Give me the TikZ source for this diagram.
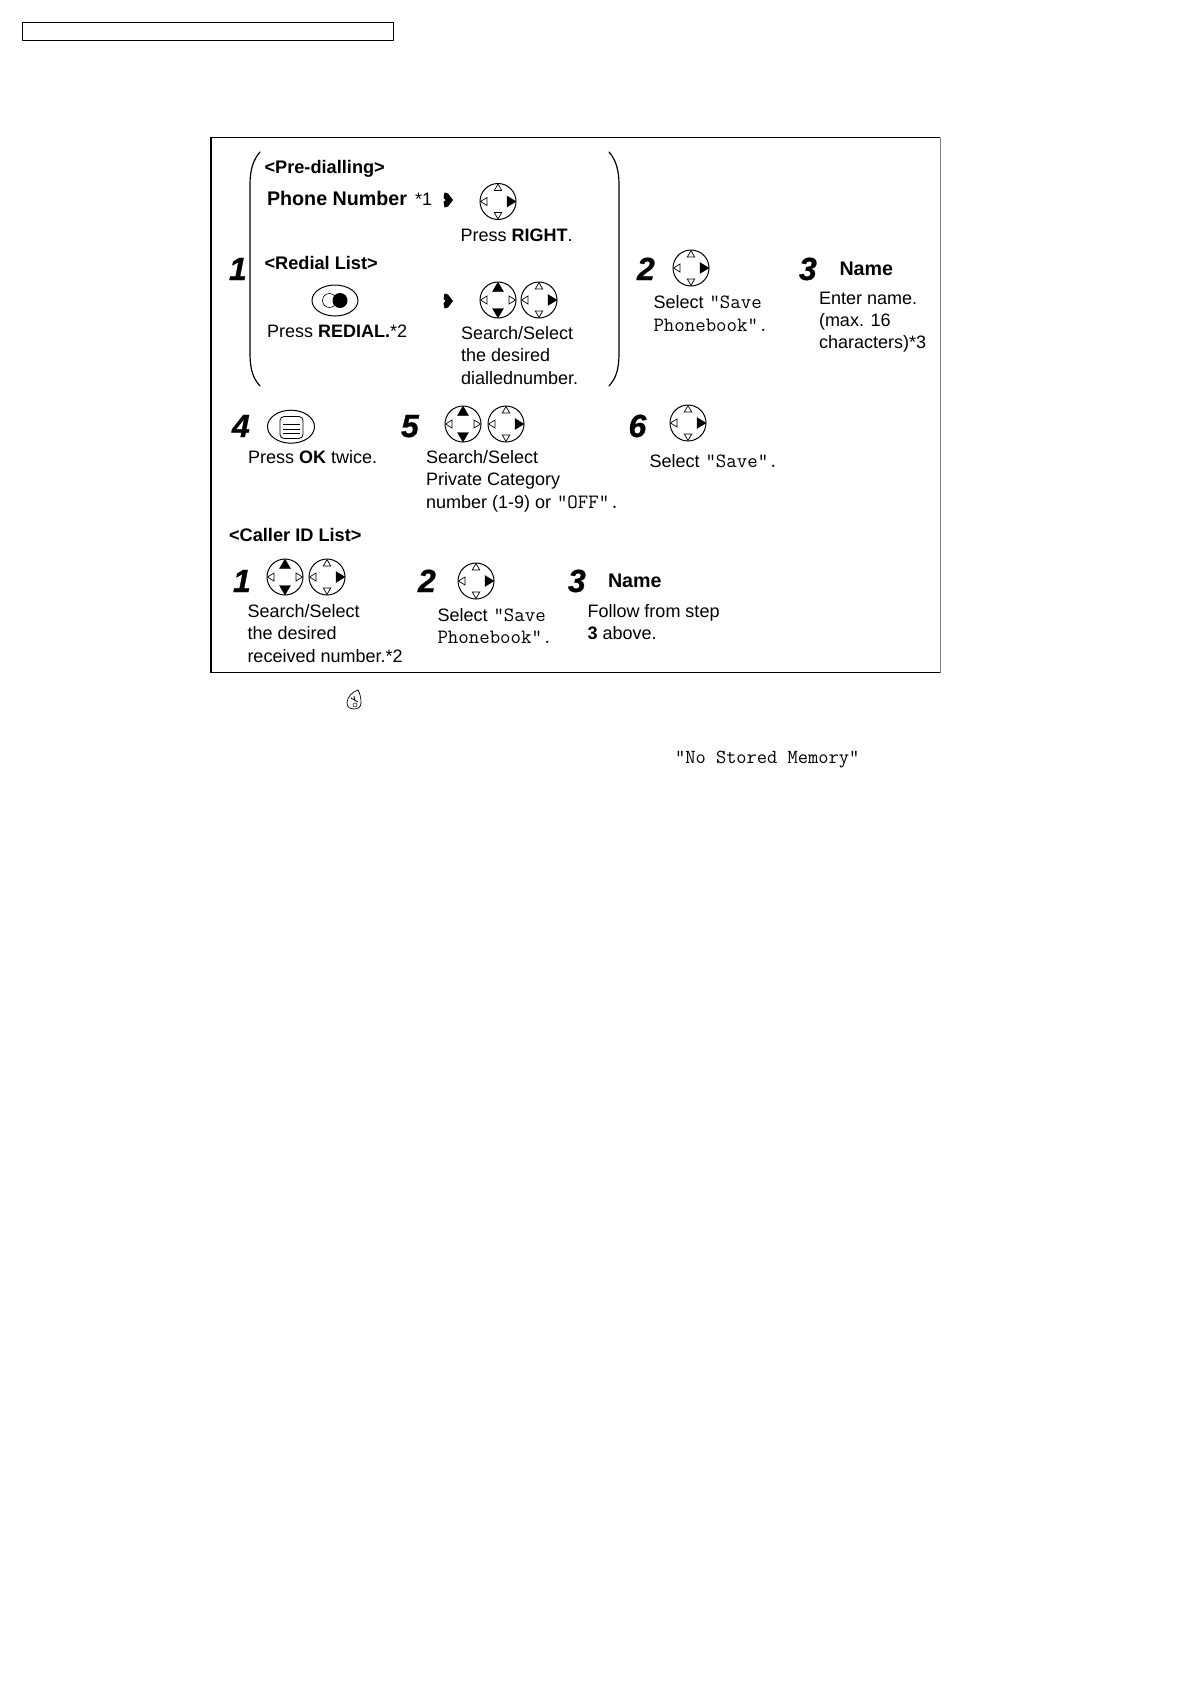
\documentclass[tikz,border=0pt]{standalone}
\usepackage{fontspec}
\usetikzlibrary{shapes.geometric}
\setmainfont{Liberation Sans}
\newfontfamily\numf[BoldItalicFeatures={FakeBold=0.8}]{Liberation Sans}
\newcommand{\body}{\fontsize{18}{22}\selectfont}
\newcommand{\head}{\fontsize{18.2}{22}\selectfont\bfseries}
\newcommand{\mono}{\fontsize{20.3}{22}\selectfont\ttfamily}
\tikzset{
  x=1pt,y=-1pt,
  txt/.style={anchor=base west,inner sep=0pt,outer sep=0pt,font=\body},
  hd/.style={txt,font=\head},
  nameT/.style={txt,font=\fontsize{19.7}{22}\selectfont\bfseries},
  num/.style={txt,font=\numf\fontsize{32}{32}\selectfont\bfseries\itshape},
  mtxt/.style={txt,font=\mono},
  frameb/.style={draw=black,line width=1.1pt},
  paren/.style={draw=black,line width=1.2pt,line cap=round},
  dialc/.style={draw=black,line width=1pt,fill=white},
  hollow/.style={draw=black,line width=.7pt,fill=white},
  solidtri/.style={draw=black,line width=.3pt,fill=black},
  btn/.style={ellipse,draw=black,line width=1pt,minimum width=46pt,minimum height=31pt,inner sep=0pt}
}
\newcommand{\ud}[3]{%
  \node[circle,dialc,minimum size=36pt,inner sep=0pt] (#1) at (#2,#3) {};
  \path[solidtri] (#2,#3-18) -- (#2+5.5,#3-8.5) -- (#2-5.5,#3-8.5) -- cycle;
  \path[solidtri] (#2,#3+18) -- (#2+5.5,#3+8.5) -- (#2-5.5,#3+8.5) -- cycle;
  \path[hollow] (#2-17.5,#3) -- (#2-11,#3-4) -- (#2-11,#3+4) -- cycle;
  \path[hollow] (#2+17.5,#3) -- (#2+11,#3-4) -- (#2+11,#3+4) -- cycle;
}
\newcommand{\rt}[3]{%
  \node[circle,dialc,minimum size=36pt,inner sep=0pt] (#1) at (#2,#3) {};
  \path[hollow] (#2,#3-17.5) -- (#2+3.7,#3-11) -- (#2-3.7,#3-11) -- cycle;
  \path[hollow] (#2,#3+17.5) -- (#2+3.7,#3+11) -- (#2-3.7,#3+11) -- cycle;
  \path[hollow] (#2-17.5,#3) -- (#2-11,#3-4) -- (#2-11,#3+4) -- cycle;
  \path[solidtri] (#2+18,#3) -- (#2+9,#3-5.5) -- (#2+9,#3+5.5) -- cycle;
}
\newcommand{\harrow}[2]{%
  \fill[black] (#1-3.5,#2-7.5) -- (#1,#2-6.5) -- (#1+5,#2) -- (#1,#2+6.5) -- (#1-3.5,#2+7.5) -- (#1-4.5,#2+2) -- (#1-2.5,#2) -- (#1-4.5,#2-2) -- cycle;
}
\begin{document}
\begin{tikzpicture}
\useasboundingbox (0,0) rectangle (1190,1684);
\fill[white] (0,0) rectangle (1190,1684);
% top frame
\node[frameb,minimum width=371.5pt,minimum height=18pt,inner sep=0pt,anchor=north west] (topframe) at (21.7,21.7) {};
% main frame
\draw[draw=black,line width=1.1pt] (940,137.5) -- (211,137.5) -- (211,672.5) -- (940,672.5);
\draw[draw=gray,line width=.9pt] (940,137.5) -- (940,672.5);
% parentheses
\draw[paren] (260,152) .. controls (253,160) and (250,170) .. (250,185) -- (250,352) .. controls (250,370) and (253,378) .. (260,386);
\draw[paren] (609,152) .. controls (616,160) and (619,170) .. (619,185) -- (619,352) .. controls (619,370) and (616,378) .. (609,386);
% group 1
\node[num] (n1) at (229,280) {1};
\node[hd] (pre) at (264.5,173) {<Pre-dialling>};
\node[nameT] (phone) at (267,205) {Phone Number};
\node[txt] (st1) at (415,205) {*1};
\harrow{448}{200}
\rt{d1}{498}{201.5}
\node[txt] (pr) at (460.5,241) {Press \textbf{RIGHT}.};
\node[hd] (red) at (264.5,269) {<Redial List>};
\node[btn] (rbtn) at (335,300.5) {};
\draw[black,line width=.6pt] (329.5,300.5) circle (7);
\fill[black] (340,300.5) circle (7.5);
\harrow{448}{301}
\ud{d2}{498}{300}
\rt{d3}{539}{300}
\node[txt] (prd) at (267,337) {Press \textbf{REDIAL.}*2};
\node[txt] (ss1) at (461,339) {Search/Select};
\node[txt] (ss2) at (461,361.5) {the desired};
\node[txt] (ss3) at (461,384) {diallednumber.};
% step 2
\node[num] (n2) at (637,280) {2};
\rt{d4}{691}{268}
\node[txt] (sel) at (653.5,308) {Select};
\node[mtxt] (sav) at (709.5,308) {"Save};
\node[mtxt] (phb) at (653.5,331) {Phonebook".};
% step 3
\node[num] (n3) at (799,280) {3};
\node[nameT] (nm) at (839.5,275) {Name};
\node[txt] (en1) at (819,304) {Enter name.};
\node[txt] (en2) at (819,326) {(max. 16};
\node[txt] (en3) at (819,348) {characters)*3};
% step 4
\node[num] (n4) at (232,437) {4};
\node[btn,minimum width=47pt,minimum height=33pt] (okb) at (291,426.7) {};
\draw[black,line width=.8pt,rounded corners=4pt] (280,416.5) rectangle (303,438.5);
\draw[black,line width=.6pt] (283,424) -- (300,424);
\draw[black,line width=.5pt] (283,429) -- (300,429);
\draw[black,line width=1.1pt] (283,433.5) -- (300,433.5);
\node[txt] (ok) at (248,463) {Press \textbf{OK} twice.};
% step 5
\node[num] (n5) at (401,437) {5};
\ud{d5}{463}{424}
\rt{d6}{506}{424}
\node[txt] (s51) at (426,463) {Search/Select};
\node[txt] (s52) at (426,485.5) {Private Category};
\node[txt] (s53) at (426,508) {number (1-9) or};
\node[mtxt] (off) at (557,508) {"OFF".};
% step 6
\node[num] (n6) at (628.5,437) {6};
\rt{d7}{688}{423}
\node[txt] (s6) at (649.5,467) {Select};
\node[mtxt] (s6m) at (705.5,467) {"Save".};
% caller id
\node[hd] (cid) at (229,541) {<Caller ID List>};
\node[num] (n7) at (233,592) {1};
\ud{d8}{285}{577}
\rt{d9}{327}{577}
\node[txt] (c1) at (247.5,617) {Search/Select};
\node[txt] (c2) at (247.5,639.5) {the desired};
\node[txt] (c3) at (247.5,662) {received number.*2};
\node[num] (n8) at (418,592) {2};
\rt{d10}{476}{581}
\node[txt] (c4) at (437.5,621) {Select};
\node[mtxt] (c5) at (493.5,621) {"Save};
\node[mtxt] (c6) at (437.5,643.5) {Phonebook".};
\node[num] (n9) at (568,592) {3};
\node[nameT] (nm2) at (608,587) {Name};
\node[txt] (f1) at (587.5,617) {Follow from step};
\node[txt] (f2) at (587.5,639.5) {\textbf{3} above.};
% icon
\draw[black,line width=.7pt] (358,690) .. controls (352,692) and (347,697) .. (347,703) .. controls (347,708) and (351,709) .. (354,709) .. controls (358,709) and (361,707) .. (361,703) .. controls (361,698) and (360,693) .. (358,690) -- cycle;
\draw[black,line width=.8pt] (351,698) -- (358,702) (354,696) -- (355,701);
\draw[black,line width=.5pt] (355,705) circle (2);
% footnote
\node[mtxt,font=\fontsize{19.9}{22}\selectfont\ttfamily] (nsm) at (675,763) {"No Stored Memory"};
\end{tikzpicture}
\end{document}
